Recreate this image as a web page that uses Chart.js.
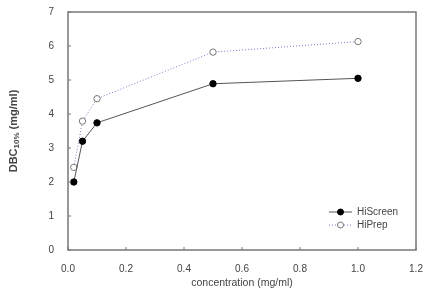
<!DOCTYPE html>
<html lang="en">
<head>
  <meta charset="UTF-8" />
  <title>DBC vs concentration</title>
  <script src="https://cdn.jsdelivr.net/npm/chart.js"></script>
  <style>
    body { margin: 0; background: #fff; }
    .wrap { width: 436px; height: 293px; }
  </style>
</head>
<body>
  <div class="wrap"><canvas id="chart" width="436" height="293"></canvas></div>

  <script>
    const concentration = [0.02, 0.05, 0.1, 0.5, 1.0];
    const hiScreen = [2.0, 3.2, 3.74, 4.89, 5.05];
    const hiPrep = [2.43, 3.79, 4.45, 5.82, 6.13];
    const xTicks = [0, 0.2, 0.4, 0.6, 0.8, 1.0, 1.2];
    const yTicks = [0, 1, 2, 3, 4, 5, 6, 7];

    const labelColor = '#444';
    const font = 'Arial, "Liberation Sans", sans-serif';

    function toPoints(xs, ys) {
      return xs.map((x, i) => ({ x: x, y: ys[i] }));
    }

    // frame, inward ticks, axis titles and legend
    const decorations = {
      id: 'decorations',
      afterDraw(chart) {
        const ctx = chart.ctx;
        const a = chart.chartArea;
        const xs = chart.scales.x, ys = chart.scales.y;
        ctx.save();
        ctx.strokeStyle = '#777';
        ctx.lineWidth = 1.5;
        ctx.strokeRect(a.left, a.top, a.right - a.left, a.bottom - a.top);

        ctx.lineWidth = 1;
        ctx.beginPath();
        xTicks.forEach(v => {
          const px = xs.getPixelForValue(v);
          ctx.moveTo(px, a.bottom);
          ctx.lineTo(px, a.bottom - 3);
        });
        yTicks.forEach(v => {
          const py = ys.getPixelForValue(v);
          ctx.moveTo(a.left, py);
          ctx.lineTo(a.left + 3, py);
        });
        ctx.stroke();

        ctx.fillStyle = labelColor;
        ctx.font = '10.5px ' + font;
        ctx.textAlign = 'center';
        ctx.textBaseline = 'middle';
        ctx.fillText('concentration (mg/ml)', (a.left + a.right) / 2, 283);

        // y title with subscript
        ctx.translate(14, (a.top + a.bottom) / 2);
        ctx.rotate(-Math.PI / 2);
        ctx.textAlign = 'left';
        const main1 = 'DBC', sub = '10%', main2 = ' (mg/ml)';
        ctx.font = 'bold 11px ' + font;
        const w1 = ctx.measureText(main1).width;
        const w3 = ctx.measureText(main2).width;
        ctx.font = 'bold 8px ' + font;
        const w2 = ctx.measureText(sub).width;
        let x0 = -(w1 + w2 + w3) / 2;
        ctx.font = 'bold 11px ' + font;
        ctx.fillText(main1, x0, 0);
        ctx.font = 'bold 8px ' + font;
        ctx.fillText(sub, x0 + w1, 3);
        ctx.font = 'bold 11px ' + font;
        ctx.fillText(main2, x0 + w1 + w2, 0);
        ctx.restore();

        // legend
        ctx.save();
        const rows = [
          { ds: chart.data.datasets[0], y: 212 },
          { ds: chart.data.datasets[1], y: 225 }
        ];
        rows.forEach(r => {
          ctx.strokeStyle = r.ds.borderColor;
          ctx.lineWidth = 1;
          ctx.setLineDash(r.ds.borderDash || []);
          ctx.beginPath();
          ctx.moveTo(329, r.y);
          ctx.lineTo(352, r.y);
          ctx.stroke();
          ctx.setLineDash([]);
          ctx.beginPath();
          ctx.arc(340.5, r.y, 3, 0, Math.PI * 2);
          ctx.fillStyle = r.ds.pointBackgroundColor;
          ctx.fill();
          ctx.strokeStyle = r.ds.pointBorderColor;
          ctx.stroke();
          ctx.fillStyle = labelColor;
          ctx.font = '10px ' + font;
          ctx.textAlign = 'left';
          ctx.textBaseline = 'middle';
          ctx.fillText(r.ds.label, 357, r.y);
        });
        ctx.restore();
      }
    };

    new Chart(document.getElementById('chart'), {
      type: 'scatter',
      data: {
        datasets: [
          {
            label: 'HiScreen',
            data: toPoints(concentration, hiScreen),
            showLine: true,
            borderColor: '#555',
            borderWidth: 1,
            pointRadius: 3.2,
            pointBackgroundColor: '#000',
            pointBorderColor: '#000',
            pointBorderWidth: 1
          },
          {
            label: 'HiPrep',
            data: toPoints(concentration, hiPrep),
            showLine: true,
            borderColor: '#7a7acc',
            borderDash: [1, 2],
            borderWidth: 1,
            pointRadius: 3.2,
            pointBackgroundColor: '#fff',
            pointBorderColor: '#777',
            pointBorderWidth: 1
          }
        ]
      },
      options: {
        responsive: false,
        animation: false,
        layout: { padding: { top: 7, right: 20, left: 0, bottom: 0 } },
        plugins: { legend: { display: false }, tooltip: { enabled: false } },
        scales: {
          x: {
            type: 'linear',
            min: 0, max: 1.2,
            afterBuildTicks: s => { s.ticks = xTicks.map(v => ({ value: v })); },
            afterFit: s => { s.height = 43; },
            grid: { display: false },
            border: { display: false },
            ticks: {
              color: labelColor,
              font: { family: font, size: 10 },
              padding: 5,
              callback: v => v.toFixed(1)
            }
          },
          y: {
            min: 0, max: 7,
            afterBuildTicks: s => { s.ticks = yTicks.map(v => ({ value: v })); },
            afterFit: s => { s.width = 68; },
            grid: { display: false },
            border: { display: false },
            ticks: {
              color: labelColor,
              font: { family: font, size: 10 },
              padding: 6
            }
          }
        }
      },
      plugins: [decorations]
    });
  </script>
</body>
</html>
